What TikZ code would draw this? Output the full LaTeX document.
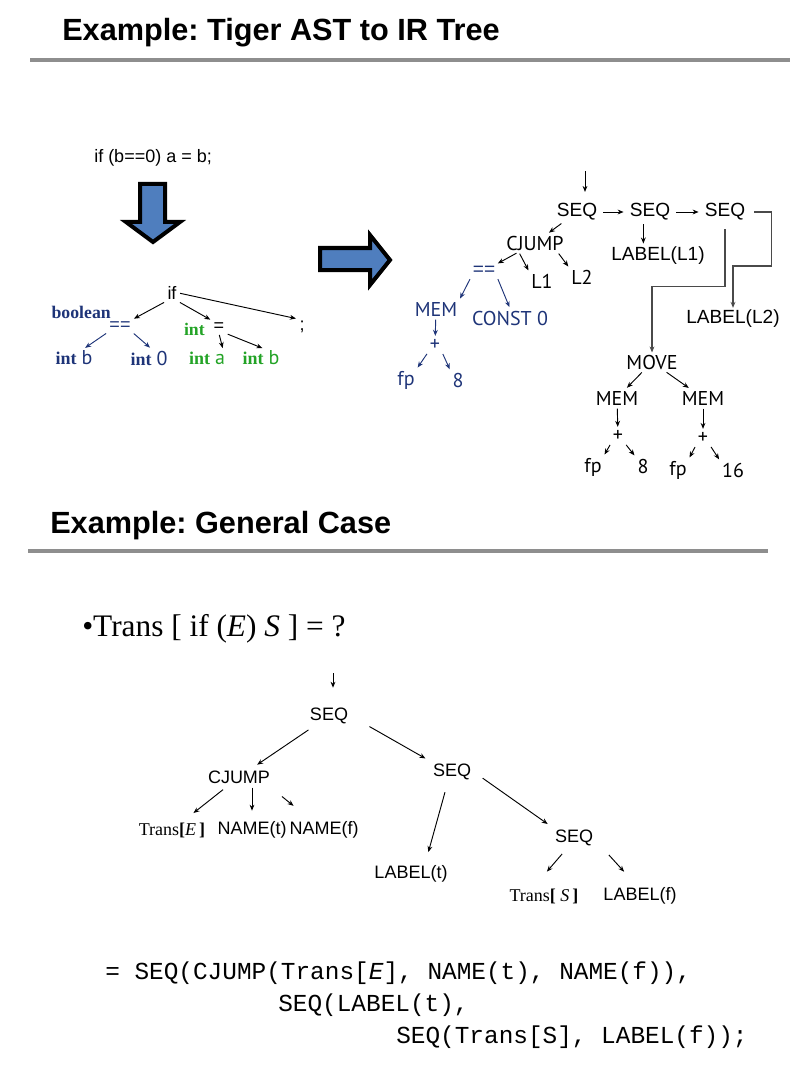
\documentclass[tikz,border=0pt]{standalone}
\usepackage{fontspec}
\setmainfont{Liberation Sans}
\newfontfamily\timesfont{Liberation Serif}
\newfontfamily\codefont{Liberation Mono}
\newfontfamily\irfont{PT Sans}
\usetikzlibrary{arrows.meta,positioning}
\definecolor{astnavy}{HTML}{1E3478}
\definecolor{astgreen}{HTML}{23A326}
\definecolor{blockblue}{HTML}{4F7EBE}
\definecolor{rulegrey}{HTML}{8E8E8E}
\definecolor{elbowgrey}{HTML}{4A4A4A}
\frenchspacing

\begin{document}
\begin{tikzpicture}[x=0.75pt, y=-0.75pt,
>={Stealth[length=4.5pt,width=3.6pt]},
heading/.style={anchor=base west, inner sep=0pt, font=\fontsize{23}{27}\selectfont\bfseries},
titlerule/.style={draw=rulegrey, line width=2.3pt},
bigarrow/.style={fill=blockblue, draw=black, line width=3pt, line join=miter},
ast/.style={font=\fontsize{13.5}{16}\selectfont, inner sep=1.5pt},
astblue/.style={ast, text=astnavy},
astgreen/.style={ast, text=astgreen},
ir/.style={font=\fontsize{15}{18}\selectfont\irfont, inner sep=1.5pt},
irblue/.style={ir, text=astnavy},
seqtext/.style={font=\fontsize{14.3}{17}\selectfont, inner sep=1.5pt},
gtree/.style={font=\fontsize{13.5}{16}\selectfont, inner sep=2pt},
link/.style={->, line width=0.7pt, shorten >=1pt, shorten <=1pt},
linkblue/.style={link, astnavy},
elbow/.style={->, line width=0.8pt, elbowgrey, shorten <=5pt},
code/.style={anchor=base west, font=\fontsize{18.3}{22}\selectfont\codefont, inner sep=0pt}
]
\useasboundingbox (0,0) rectangle (802,1084);

% --- Headings ---
\node[heading] (head1) at (62,41) {Example: Tiger AST to IR Tree};
\draw[titlerule] (30,60) -- (790,60);
\node[heading] (head2) at (50,533) {Example: General Case};
\draw[titlerule] (28,551) -- (768,551);

% --- Source and block arrows ---
\node[ast, anchor=west] (src) at (92,158) {if (b==0) a = b;};
\draw[bigarrow] (140,184) -- (165,184) -- (165,222) -- (180,222) -- (153,242) -- (126,222) -- (140,222) -- cycle;
\draw[bigarrow] (320,248) -- (370,248) -- (370,235) -- (390,260) -- (370,285) -- (370,270) -- (320,270) -- cycle;

% --- Tiger AST ---
\node[ast] (ifn) at (172,293) {if};
\node[astblue] (eqa) at (120,326) {==};
\node[astblue, anchor=base east, font=\fontsize{13.3}{16}\selectfont\timesfont\bfseries] (bool) at (113,318) {boolean};
\node[ast] (asg) at (219,327) {=};
\node[astgreen, anchor=east, font=\fontsize{13.3}{16}\selectfont\timesfont\bfseries] (intg) at (207,329) {int};
\node[ast] (semi) at (302,327) {;};
\node[astblue] (intb) at (74,358) {{\timesfont\bfseries int} {\irfont\fontsize{15}{18}\selectfont b}};
\node[astblue] (intz) at (149,358) {{\timesfont\bfseries int} {\irfont\fontsize{15}{18}\selectfont 0}};
\node[astgreen] (inta) at (207,358) {{\timesfont\bfseries int} {\irfont\fontsize{15}{18}\selectfont a}};
\node[astgreen] (intc) at (261,358) {{\timesfont\bfseries int} {\irfont\fontsize{15}{18}\selectfont b}};

\draw[link] (ifn.south west) -- (eqa.north east);
\draw[link] (ifn.south east) -- (asg.north west);
\draw[link] (ifn.east) -- (semi.north west);
\draw[linkblue] (eqa.south west) -- ([xshift=-8]intb.north east);
\draw[linkblue] (eqa.south east) -- ([xshift=-14]intz.north east);
\draw[link] (asg.south) -- ([xshift=12]inta.north);
\draw[link] (asg.south east) -- ([xshift=2]intc.north);

% --- IR tree ---
\coordinate (irtop) at (585,170);
\node[seqtext] (seq1) at (577,212) {SEQ};
\node[seqtext] (seq2) at (650,212) {SEQ};
\node[seqtext] (seq3) at (725,212) {SEQ};
\node[seqtext] (lab1) at (658,256) {LABEL(L1)};
\node[seqtext] (lab2) at (733,319) {LABEL(L2)};
\node[ir] (cj) at (535,243) {CJUMP};
\node[seqtext, text=astnavy] (eqb) at (484,271) {==};
\node[ir] (l1) at (542,281) {L1};
\node[ir] (l2) at (582,277) {L2};
\node[irblue] (mem1) at (436,309) {MEM};
\node[irblue] (cst) at (510,318) {CONST 0};
\node[irblue] (plus1) at (435,345) {+};
\node[irblue] (fp1) at (406,380) {fp};
\node[irblue] (eight1) at (458,380) {8};
\node[ir] (move) at (652,362) {MOVE};
\node[ir] (mem2) at (617,398) {MEM};
\node[ir] (mem3) at (703,398) {MEM};
\node[ir] (plus2) at (618,436) {+};
\node[ir] (fp2) at (593,467) {fp};
\node[ir] (eight2) at (643,466) {8};
\node[ir] (plus3) at (703,438) {+};
\node[ir] (fp3) at (678,470) {fp};
\node[ir] (sixteen) at (733,470) {16};

\draw[link, shorten >=7pt] (irtop) -- (irtop |- seq1.north);
\draw[link, shorten <=3pt, shorten >=3pt] (seq1.east) -- (seq2.west);
\draw[link, shorten <=3pt, shorten >=3pt] (seq2.east) -- (seq3.west);
\draw[link] ([xshift=-5]seq2.south) -- ([xshift=-11]lab1.north);
\draw[link] (seq1) -- (cj);
\draw[link] (cj) -- (eqb);
\draw[link] ([xshift=-12]cj.south) -- (l1.north west);
\draw[link] ([xshift=-6]cj.south east) -- (l2.north west);
\draw[linkblue] (eqb.south west) -- (mem1.north east);
\draw[linkblue] (eqb.south east) -- (cst.north);
\draw[linkblue] (mem1) -- (plus1);
\draw[linkblue] (plus1.south west) -- (fp1.north east);
\draw[linkblue] (plus1.south east) -- (eight1.north west);
\draw[elbow] (seq3.east) -- ++(24,0) -- ++(0,54) -| (lab2.north);
\draw[elbow] (seq3.south) -- ++(0,64) -| (move.north);
\draw[link] (move) -- (mem2);
\draw[link] (move) -- (mem3);
\draw[link] (mem2) -- (plus2);
\draw[link] (plus2.south west) -- (fp2.north east);
\draw[link] (plus2.south east) -- (eight2.north west);
\draw[link] (mem3) -- (plus3);
\draw[link] (plus3.south west) -- (fp3.north east);
\draw[link] (plus3.south east) -- (sixteen.north west);

% --- General case ---
\node[anchor=base west, inner sep=0pt, font=\fontsize{23.5}{28}\selectfont\timesfont] (trans) at (82,636) {\textbullet Trans [ if (\textit{E}) \textit{S} ] = ?};

\coordinate (gtop) at (333,672);
\node[gtree] (gseq) at (329,716) {SEQ};
\node[gtree] (gcj) at (239,777) {CJUMP};
\node[gtree] (gseq2) at (452,772) {SEQ};
\node[gtree, font=\fontsize{13.5}{16}\selectfont\timesfont] (te) at (172,830) {Trans\textbf{[}\textit{E}\,\textbf{]}};
\node[gtree] (nt) at (252,830) {NAME(t)};
\node[gtree] (nf) at (324,830) {NAME(f)};
\node[gtree] (lt) at (411,874) {LABEL(t)};
\node[gtree] (gseq3) at (574,838) {SEQ};
\node[gtree, font=\fontsize{13.5}{16}\selectfont\timesfont] (ts) at (544,896) {Trans\textbf{[} \textit{S}\,\textbf{]}};
\node[gtree] (lf) at (640,896) {LABEL(f)};

\draw[link, shorten >=13pt] (gtop) -- (gtop |- gseq.north);
\draw[link, shorten <=4pt, shorten >=4pt] (gseq) -- (gcj);
\draw[link, shorten <=16pt, shorten >=4pt] (gseq.east) -- (gseq2.north west);
\draw[link, shorten <=4pt, shorten >=8pt] (gcj) -- (te);
\draw[link, shorten >=6pt] (gcj.south -| nt) -- (nt.north);
\draw[link] ([xshift=6pt,yshift=-7pt]gcj.south east) -- ([xshift=6pt,yshift=9pt]nf.north west);
\draw[link] ([xshift=-5pt,yshift=-6pt]gseq2.south) -- ([xshift=12.75pt,yshift=7pt]lt.north);
\draw[link, shorten <=8pt, shorten >=4pt] (gseq2.east) -- (gseq3.north west);
\draw[link] ([xshift=-8.25pt,yshift=-3pt]gseq3.south) -- ([xshift=1.5pt,yshift=9.75pt]ts.north);
\draw[link] ([xshift=9pt,yshift=-3.75pt]gseq3.south east) -- ([xshift=-11.25pt,yshift=9pt]lf.north);

% --- Code ---
\node[code] (code1) at (105,979) {= SEQ(CJUMP(Trans[\textit{E}], NAME(t), NAME(f)),};
\node[code] (code2) at (278,1011) {SEQ(LABEL(t),};
\node[code] (code3) at (396,1043) {SEQ(Trans[S], LABEL(f));};

\end{tikzpicture}
\end{document}
